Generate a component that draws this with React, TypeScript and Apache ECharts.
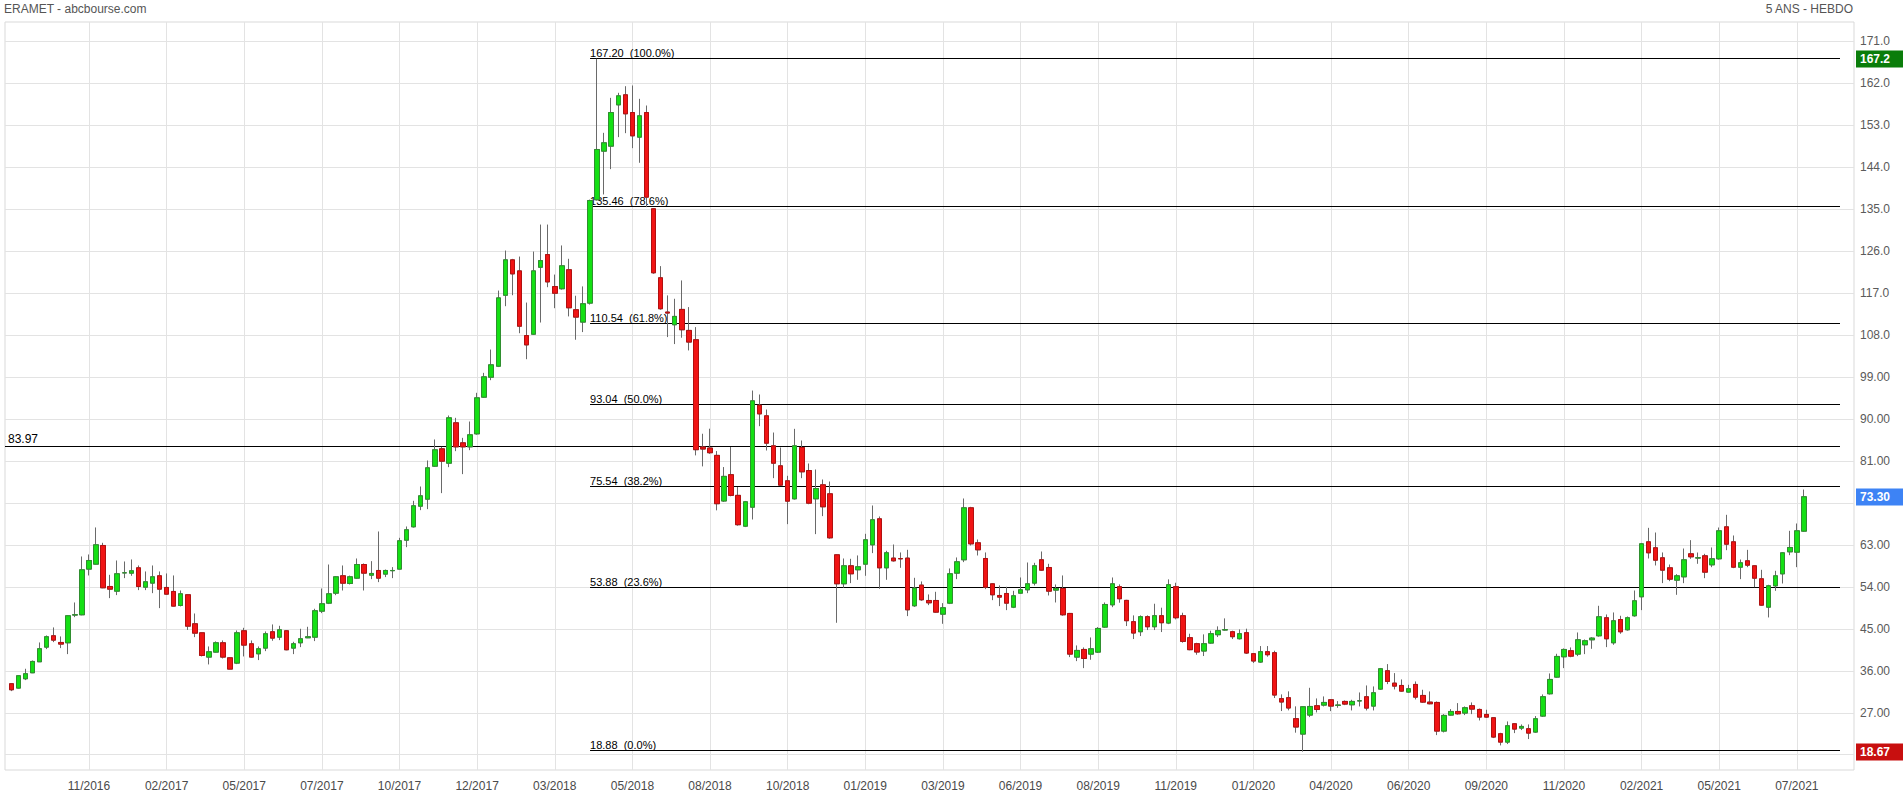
import React, { useEffect, useRef } from 'react';
import * as echarts from 'echarts';

// Weekly OHLC (index 0 = first week shown)
const opens = [
  33.22, 32.29, 34.29, 35.57, 37.93, 41.07, 43.5, 42.07, 42.0, 47.95, 48.0, 57.79, 58.86, 62.86, 54.07, 53.07, 57.0, 56.93, 58.07, 53.93,
  54.79, 56.36, 53.86, 53.0, 50.0, 52.29, 46.07, 44.14, 38.93, 40.0, 42.0, 38.78, 37.64, 44.57, 41.78, 39.64, 40.86, 44.36, 43.21, 44.57,
  40.86, 42.0, 43.07, 43.21, 48.78, 50.5, 52.64, 56.36, 54.71, 55.86, 58.78, 56.5, 57.5, 56.72, 57.45, 57.79, 64.0, 66.86, 71.29, 72.79,
  79.86, 83.58, 80.5, 89.15, 84.86, 84.0, 86.79, 94.65, 98.93, 101.29, 116.5, 124.08, 121.72, 107.86, 108.15, 122.5, 125.22, 118.36, 117.89, 121.96,
  113.39, 110.74, 114.81, 136.96, 147.39, 148.46, 157.31, 159.46, 155.67, 150.39, 155.67, 135.03, 120.24, 112.89, 110.17, 113.46, 108.96, 106.96, 83.96, 83.74,
  82.17, 72.39, 78.03, 73.6, 67.0, 71.07, 92.93, 90.65, 84.22, 79.93, 76.72, 72.86, 83.86, 78.93, 72.86, 75.86, 73.93, 60.86, 54.65, 58.5,
  57.65, 58.86, 63.0, 68.57, 58.07, 60.15, 60.05, 60.15, 49.93, 54.36, 51.07, 51.07, 48.14, 50.5, 56.93, 59.79, 70.93, 63.43, 60.07, 54.64,
  52.14, 52.57, 49.64, 52.64, 53.36, 54.79, 59.79, 58.14, 53.29, 53.64, 48.29, 38.93, 40.57, 39.57, 40.0, 45.36, 50.14, 54.02, 51.09, 46.52,
  44.37, 47.59, 45.44, 47.8, 46.23, 54.02, 47.8, 43.09, 41.8, 40.23, 41.94, 43.73, 44.75, 44.37, 42.87, 44.16, 39.66, 37.87, 40.09, 39.87,
  30.02, 30.23, 25.73, 22.43, 26.5, 28.5, 28.64, 29.78, 28.6, 29.43, 28.71, 29.55, 30.43, 28.43, 32.07, 36.0, 33.35, 32.85, 31.43, 33.07,
  30.71, 29.28, 29.21, 23.07, 26.5, 27.28, 26.93, 28.5, 27.71, 26.64, 25.93, 22.5, 20.71, 24.64, 23.71, 23.57, 22.86, 26.29, 31.07, 34.64,
  39.0, 40.29, 39.57, 41.57, 42.64, 43.5, 47.36, 42.0, 46.99, 44.79, 47.79, 51.86, 63.64, 62.36, 60.21, 58.07, 55.43, 56.14, 61.07, 60.18,
  60.64, 58.71, 60.0, 66.85, 63.64, 58.21, 59.57, 58.5, 55.71, 49.64, 54.21, 56.78, 61.5, 61.43, 65.93
];
const closes = [
  31.93, 34.93, 35.36, 38.0, 40.72, 43.29, 42.57, 41.72, 47.79, 48.0, 57.64, 59.64, 63.0, 53.79, 53.5, 56.79, 57.0, 57.43, 54.07, 55.07,
  56.14, 53.5, 52.43, 49.86, 52.5, 45.57, 44.07, 39.28, 40.07, 42.0, 38.93, 36.36, 44.14, 41.5, 38.93, 40.71, 43.93, 43.0, 44.78, 40.5,
  41.78, 42.86, 43.29, 48.86, 50.36, 52.5, 56.14, 54.78, 56.14, 58.78, 56.93, 56.86, 55.86, 57.5, 57.5, 63.86, 66.22, 71.36, 73.5, 79.5,
  83.36, 80.93, 90.22, 84.0, 84.0, 86.58, 94.5, 99.0, 101.58, 115.93, 124.08, 121.08, 109.86, 105.86, 121.72, 123.93, 119.36, 116.93, 122.81, 113.81,
  111.81, 114.67, 136.81, 147.74, 149.17, 155.67, 159.24, 155.39, 150.67, 154.96, 137.53, 121.31, 113.6, 112.68, 111.96, 109.1, 106.46, 83.39, 83.53, 82.74,
  71.81, 77.67, 73.6, 67.31, 72.22, 93.86, 91.07, 84.79, 80.5, 75.79, 72.36, 84.22, 78.65, 71.93, 75.07, 71.15, 64.5, 54.65, 58.5, 56.79,
  58.29, 64.07, 68.36, 58.07, 61.29, 59.57, 60.0, 49.07, 53.72, 51.22, 50.57, 48.57, 49.5, 56.79, 59.36, 70.93, 63.21, 61.93, 53.93, 52.29,
  51.79, 50.5, 52.07, 53.36, 54.64, 58.5, 57.57, 53.07, 53.64, 48.0, 39.57, 40.36, 38.64, 40.71, 45.07, 50.21, 54.64, 51.44, 46.73, 44.09,
  47.59, 45.44, 47.8, 46.3, 54.44, 47.37, 42.3, 40.52, 40.02, 41.8, 43.94, 44.59, 44.8, 43.3, 43.94, 39.8, 38.09, 40.09, 39.44, 30.8,
  29.3, 28.02, 23.94, 28.28, 28.35, 27.71, 29.21, 28.43, 28.64, 28.86, 29.43, 29.57, 28.0, 31.28, 36.43, 33.71, 32.71, 31.64, 32.14, 30.35,
  29.28, 28.93, 23.07, 26.43, 27.28, 26.78, 28.07, 27.78, 26.07, 26.07, 21.79, 20.71, 24.21, 23.5, 24.07, 22.64, 25.71, 30.43, 34.14, 39.07,
  40.57, 39.14, 42.64, 42.43, 43.0, 47.57, 42.86, 46.71, 44.36, 47.36, 51.0, 63.21, 61.29, 59.71, 57.57, 55.64, 56.35, 59.78, 60.43, 60.21,
  57.14, 60.0, 66.0, 63.14, 58.21, 59.14, 58.64, 55.85, 50.07, 54.21, 56.35, 61.28, 62.43, 66.0, 73.3
];
const lows = [
  31.64, 32.2, 34.0, 35.5, 37.9, 40.65, 42.14, 40.86, 39.57, 47.5, 47.9, 56.43, 58.8, 53.7, 51.57, 52.22, 55.86, 56.36, 53.29, 53.29,
  52.64, 49.43, 52.3, 49.8, 49.79, 44.75, 43.21, 39.07, 37.36, 39.9, 38.64, 36.3, 37.43, 39.07, 38.8, 38.29, 40.21, 42.43, 42.57, 40.4,
  39.57, 41.07, 43.0, 42.36, 48.36, 50.3, 52.21, 53.21, 54.5, 55.7, 53.21, 55.64, 55.0, 56.08, 55.86, 57.7, 62.5, 66.7, 70.43, 70.65,
  79.7, 74.08, 79.65, 83.08, 78.15, 83.29, 86.6, 94.5, 98.29, 101.1, 114.15, 116.5, 108.36, 102.79, 108.0, 110.65, 118.22, 113.72, 117.7, 111.96,
  106.96, 108.6, 114.5, 136.8, 138.1, 143.53, 150.39, 151.24, 148.03, 144.89, 135.39, 121.1, 113.4, 107.53, 106.03, 107.39, 104.67, 82.17, 79.81, 82.5,
  70.39, 72.2, 73.4, 67.1, 66.8, 68.43, 88.43, 83.22, 77.29, 75.6, 67.43, 72.7, 77.29, 71.7, 65.29, 69.15, 64.3, 46.29, 53.79, 54.79,
  55.5, 56.36, 61.22, 53.57, 55.5, 59.4, 58.07, 47.72, 49.7, 51.0, 50.07, 48.4, 46.07, 50.3, 55.64, 59.29, 62.86, 60.71, 53.5, 51.14,
  49.86, 49.0, 49.43, 52.5, 52.64, 54.29, 57.4, 52.14, 50.64, 47.8, 38.93, 38.07, 36.57, 38.36, 39.8, 45.2, 49.64, 50.59, 45.59, 42.8,
  43.44, 44.73, 44.73, 44.3, 46.0, 47.02, 42.02, 40.4, 39.44, 39.16, 41.8, 43.23, 44.6, 42.8, 42.7, 39.6, 37.66, 37.7, 39.02, 30.16,
  27.37, 27.52, 22.73, 18.67, 26.07, 27.07, 28.35, 27.35, 28.07, 28.64, 27.5, 28.35, 27.5, 27.5, 31.9, 33.14, 32.0, 31.5, 31.3, 29.85,
  29.1, 28.8, 22.21, 22.78, 26.4, 26.6, 26.5, 26.71, 25.35, 25.9, 21.57, 20.0, 20.29, 22.64, 23.29, 21.36, 22.7, 26.1, 30.9, 34.5,
  36.57, 38.9, 39.14, 39.57, 40.71, 43.3, 41.07, 41.57, 43.93, 44.6, 47.6, 49.0, 60.07, 58.57, 54.79, 55.21, 52.28, 54.78, 59.99, 58.93,
  55.85, 58.21, 59.8, 61.85, 58.0, 55.64, 58.21, 53.92, 49.9, 47.43, 53.14, 54.71, 60.78, 58.21, 65.8
];
const highs = [
  33.3, 35.0, 36.43, 38.2, 42.07, 43.57, 45.29, 43.36, 47.9, 50.64, 60.5, 60.93, 66.72, 63.43, 56.57, 59.64, 59.43, 59.86, 58.57, 57.29,
  58.57, 57.29, 56.86, 56.43, 53.21, 52.4, 48.28, 44.2, 41.21, 42.3, 42.5, 38.9, 44.64, 45.21, 42.5, 41.21, 44.43, 45.93, 45.64, 44.7,
  42.21, 45.0, 45.43, 49.29, 53.64, 58.78, 56.3, 58.57, 56.4, 60.07, 59.0, 59.5, 65.86, 57.7, 58.22, 64.5, 66.93, 72.43, 75.5, 81.08,
  85.58, 84.0, 90.72, 90.22, 85.93, 89.43, 95.58, 99.86, 104.86, 117.5, 126.08, 124.29, 124.79, 114.93, 125.86, 131.65, 131.65, 120.93, 127.17, 124.31,
  116.39, 118.39, 137.0, 167.2, 151.31, 158.81, 159.89, 161.31, 161.46, 158.6, 157.17, 135.2, 122.74, 116.46, 115.74, 119.67, 113.96, 109.67, 86.81, 87.89,
  83.1, 79.67, 83.96, 75.39, 72.4, 96.07, 95.22, 92.0, 87.07, 83.86, 77.79, 87.86, 85.36, 80.43, 79.15, 77.0, 76.57, 61.0, 60.07, 60.0,
  60.72, 65.36, 71.43, 69.07, 61.72, 63.07, 61.36, 61.93, 55.93, 55.15, 52.36, 52.93, 50.5, 57.93, 60.29, 72.93, 71.14, 64.14, 61.36, 54.8,
  54.29, 54.0, 53.14, 56.0, 59.21, 59.14, 61.57, 58.93, 54.5, 56.43, 48.4, 41.43, 41.0, 43.14, 45.36, 50.64, 56.0, 54.52, 51.2, 47.87,
  47.87, 47.87, 50.37, 49.52, 55.59, 54.87, 48.44, 43.94, 42.0, 43.8, 44.59, 45.52, 47.23, 44.59, 44.87, 45.02, 39.8, 41.3, 41.3, 40.3,
  30.94, 31.59, 28.37, 28.4, 32.35, 30.07, 30.5, 29.9, 29.5, 29.64, 29.78, 31.35, 32.85, 32.64, 36.6, 37.43, 35.5, 34.14, 33.0, 33.71,
  31.93, 31.57, 29.43, 26.71, 27.78, 29.07, 28.35, 29.21, 27.9, 27.64, 26.0, 22.7, 25.14, 24.8, 24.5, 24.5, 26.29, 30.93, 35.43, 39.64,
  40.79, 41.0, 44.21, 42.71, 43.2, 49.93, 48.07, 48.5, 47.79, 47.64, 53.21, 63.4, 66.64, 65.64, 61.36, 58.78, 56.71, 62.21, 64.0, 61.35,
  61.07, 62.43, 66.71, 69.43, 65.0, 59.85, 61.92, 58.6, 57.64, 54.43, 57.43, 61.4, 66.0, 67.57, 74.85
];

// x-axis: candle index of each labelled week, and its label
const xTickIndex = [11, 22, 33, 44, 55, 66, 77, 88, 99, 110, 121, 132, 143, 154, 165, 176, 187, 198, 209, 220, 231, 242, 253];
const xTickLabels = [
  '11/2016', '02/2017', '05/2017', '07/2017', '10/2017', '12/2017', '03/2018', '05/2018', '08/2018', '10/2018', '01/2019', '03/2019',
  '06/2019', '08/2019', '11/2019', '01/2020', '04/2020', '06/2020', '09/2020', '11/2020', '02/2021', '05/2021', '07/2021'
];
// y-axis ticks (grid lines) and the ones carrying a label
const yTicks = [18, 27, 36, 45, 54, 63, 72, 81, 90, 99, 108, 117, 126, 135, 144, 153, 162, 171];
const yLabelTicks = [27, 36, 45, 54, 63, 81, 90, 99, 108, 117, 126, 135, 144, 153, 162, 171];

// Fibonacci retracement levels
const fibValues = [167.2, 135.46, 110.54, 93.04, 75.54, 53.88, 18.88];
const fibPercents = ['100.0%', '78.6%', '61.8%', '50.0%', '38.2%', '23.6%', '0.0%'];
const fibStartIndex = 82;
const refLevel = 83.97;

// price tags on the right
const tagValues = [167.2, 73.3, 18.67];
const tagColors = ['#0a7d0a', '#3d83f5', '#c80f0f'];

const W = 1903;
const H = 796;
const GRID = { left: 5, top: 22, right: 49, bottom: 26 };
const FONT = '"Liberation Sans", Arial, sans-serif';

const fmtPrice = (v: number) => (v >= 100 ? v.toFixed(1) : v.toFixed(2));

export default function App() {
  const ref = useRef<HTMLDivElement | null>(null);

  useEffect(() => {
    if (!ref.current) return;
    const chart = echarts.init(ref.current, undefined, { renderer: 'svg', width: W, height: H });

    const wickData = opens.map((o, i) => [i, o, closes[i], lows[i], highs[i]]);
    const bodyData = opens.map((o, i) => [i, o, closes[i], Math.min(o, closes[i]), Math.max(o, closes[i])]);

    chart.setOption({
      animation: false,
      backgroundColor: '#ffffff',
      textStyle: { fontFamily: FONT },
      grid: { ...GRID, show: true, borderColor: '#d9d9d9', borderWidth: 1, backgroundColor: 'transparent' },
      xAxis: {
        type: 'value',
        min: -0.9,
        max: 261.1,
        position: 'bottom',
        axisLine: { show: false },
        axisTick: { show: false, customValues: xTickIndex },
        axisLabel: {
          customValues: xTickIndex,
          formatter: (v: number) => xTickLabels[xTickIndex.indexOf(v)] ?? '',
          color: '#4a4a4a',
          fontSize: 12,
          fontFamily: FONT,
          margin: 10,
        },
        splitLine: { show: true, lineStyle: { color: '#e3e3e3', width: 1 } },
      },
      yAxis: {
        type: 'value',
        position: 'right',
        min: 14.73,
        max: 175.07,
        scale: true,
        axisLine: { show: false },
        axisTick: { show: false, customValues: yTicks },
        axisLabel: {
          customValues: yLabelTicks,
          formatter: (v: number) => fmtPrice(v),
          color: '#5a5a5a',
          fontSize: 12,
          fontFamily: FONT,
          margin: 6,
          padding: [0, 0, 6, 0],
        },
        splitLine: { show: true, lineStyle: { color: '#e3e3e3', width: 1 } },
      },
      series: [
        {
          type: 'candlestick',
          name: 'wicks',
          data: wickData,
          barWidth: 5,
          z: 3,
          itemStyle: { color: '#14e014', color0: '#f01414', borderColor: '#6a6a6a', borderColor0: '#6a6a6a', borderWidth: 1 },
        },
        {
          type: 'candlestick',
          name: 'bodies',
          data: bodyData,
          barWidth: 5,
          z: 4,
          itemStyle: { color: '#14e014', color0: '#f01414', borderColor: '#2f8f2f', borderColor0: '#b21010', borderWidth: 1 },
        },
      ],
    });

    const toPx = (x: number, y: number) => chart.convertToPixel({ gridIndex: 0 }, [x, y]) as number[];
    const crisp = (v: number) => Math.round(v - 0.5) + 0.5;
    const gridRight = W - GRID.right;
    const lineEnd = gridRight - 14;
    const elements: any[] = [];

    fibValues.forEach((v, k) => {
      const [x1, yRaw] = toPx(fibStartIndex, v);
      const y = crisp(yRaw);
      elements.push({
        type: 'line',
        z: 1,
        shape: { x1, y1: y, x2: lineEnd, y2: y },
        style: { stroke: '#000', lineWidth: 1 },
      });
      elements.push({
        type: 'text',
        z: 1,
        x: x1,
        y: y - 6,
        style: { text: `${v.toFixed(2)}  (${fibPercents[k]})`, fill: '#000', font: `11px ${FONT}`, align: 'left', verticalAlign: 'middle' },
      });
    });

    {
      const y = crisp(toPx(0, refLevel)[1]);
      elements.push({
        type: 'line',
        z: 1,
        shape: { x1: GRID.left, y1: y, x2: lineEnd, y2: y },
        style: { stroke: '#000', lineWidth: 1 },
      });
      elements.push({
        type: 'text',
        z: 1,
        x: GRID.left + 3,
        y: y - 8,
        style: { text: refLevel.toFixed(2), fill: '#000', font: `12px ${FONT}`, align: 'left', verticalAlign: 'middle' },
      });
    }

    tagValues.forEach((v, k) => {
      const y = toPx(0, v)[1];
      elements.push({
        type: 'rect',
        z: 10,
        shape: { x: gridRight + 2, y: Math.round(y) - 8.5, width: W - gridRight - 2, height: 17 },
        style: { fill: tagColors[k] },
      });
      elements.push({
        type: 'text',
        z: 11,
        x: gridRight + 6,
        y: Math.round(y),
        style: { text: fmtPrice(v), fill: '#fff', font: `bold 12px ${FONT}`, align: 'left', verticalAlign: 'middle' },
      });
    });

    elements.push({
      type: 'text',
      z: 5,
      x: 4,
      y: 9,
      style: { text: 'ERAMET - abcbourse.com', fill: '#555', font: `12px ${FONT}`, align: 'left', verticalAlign: 'middle' },
    });
    elements.push({
      type: 'text',
      z: 5,
      x: gridRight - 1,
      y: 9,
      style: { text: '5 ANS - HEBDO', fill: '#555', font: `12px ${FONT}`, align: 'right', verticalAlign: 'middle' },
    });

    chart.setOption({ graphic: elements });

    return () => {
      chart.dispose();
    };
  }, []);

  return <div ref={ref} style={{ position: 'absolute', left: 0, top: 0, width: W, height: H }} />;
}
